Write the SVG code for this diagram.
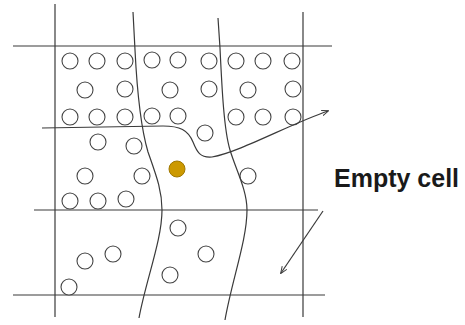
<svg xmlns="http://www.w3.org/2000/svg" width="465" height="325" viewBox="0 0 465 325">
<defs>
<style>
.ln{stroke:#3a3a3a;stroke-width:1.2;fill:none}
.c{fill:#fff;stroke:#444;stroke-width:1.1}
.lbl{font-family:"Liberation Sans",Arial,sans-serif;font-weight:bold;font-size:25px;fill:#1a1a1a}
</style>
<marker id="ah" viewBox="0 0 10 10" refX="9" refY="5" markerWidth="7" markerHeight="7" orient="auto" markerUnits="userSpaceOnUse">
<path d="M0,1 L10,5 L0,9" fill="none" stroke="#3a3a3a" stroke-width="1.4"/>
</marker>
</defs>
<rect width="465" height="325" fill="#fff"/>
<g id="grid">
<line class="ln" x1="55" y1="4" x2="55" y2="317"/>
<line class="ln" x1="303" y1="12" x2="303" y2="317"/>
<line class="ln" x1="13" y1="46" x2="332" y2="46"/>
<line class="ln" x1="34" y1="210" x2="318" y2="210"/>
<line class="ln" x1="13" y1="295" x2="325" y2="295"/>
</g>
<g id="particles">
<circle class="c" cx="70" cy="61" r="8"/><circle class="c" cx="97" cy="61" r="8"/><circle class="c" cx="125" cy="61" r="8"/><circle class="c" cx="152" cy="60" r="8"/><circle class="c" cx="178" cy="60" r="8"/><circle class="c" cx="209" cy="61" r="8"/><circle class="c" cx="236" cy="61" r="8"/><circle class="c" cx="263" cy="61" r="8"/><circle class="c" cx="292" cy="61" r="8"/>
<circle class="c" cx="85" cy="90" r="8"/><circle class="c" cx="125" cy="89" r="8"/><circle class="c" cx="170" cy="90" r="8"/><circle class="c" cx="209" cy="89" r="8"/><circle class="c" cx="248" cy="90" r="8"/><circle class="c" cx="293" cy="89" r="8"/>
<circle class="c" cx="70" cy="117" r="8"/><circle class="c" cx="97" cy="117" r="8"/><circle class="c" cx="125" cy="117" r="8"/><circle class="c" cx="152" cy="116" r="8"/><circle class="c" cx="178" cy="116" r="8"/><circle class="c" cx="236" cy="117" r="8"/><circle class="c" cx="263" cy="117" r="8"/><circle class="c" cx="293" cy="117" r="8"/>
<circle class="c" cx="205" cy="133" r="8"/>
<circle class="c" cx="98" cy="142" r="8"/><circle class="c" cx="134" cy="146" r="8"/>
<circle class="c" cx="85" cy="176" r="8"/><circle class="c" cx="142" cy="176" r="8"/><circle class="c" cx="248" cy="176" r="8"/>
<circle cx="177" cy="169" r="8" fill="#cc9900" stroke="#a07800" stroke-width="1"/>
<circle class="c" cx="70" cy="201" r="8"/><circle class="c" cx="98" cy="201" r="8"/><circle class="c" cx="126" cy="199" r="8"/>
<circle class="c" cx="178" cy="228" r="8"/>
<circle class="c" cx="113" cy="254" r="8"/><circle class="c" cx="85" cy="261" r="8"/><circle class="c" cx="206" cy="254" r="8"/><circle class="c" cx="170" cy="275" r="8"/><circle class="c" cx="69" cy="287" r="8"/>
</g>
<g id="connectors">
<path class="ln" d="M133,12 L135,50 C137,90 140,125 148,152 C156,175 162,190 162,210 C162,240 146,280 139,318"/>
<path class="ln" d="M218,18 L220,48 C222,90 224,130 230,150 C236,170 247,190 247,210 C247,240 232,280 225,320"/>
<path class="ln" d="M42,128 L163,126 C180,126 188,130 193,142 C197,152 200,158 212,157 C240,152 290,124 328,111" marker-end="url(#ah)"/>
<line class="ln" x1="323" y1="211" x2="281" y2="273" marker-end="url(#ah)"/>
</g>
<g id="label">
<text class="lbl" x="334" y="187">Empty cell</text>
</g>
</svg>
